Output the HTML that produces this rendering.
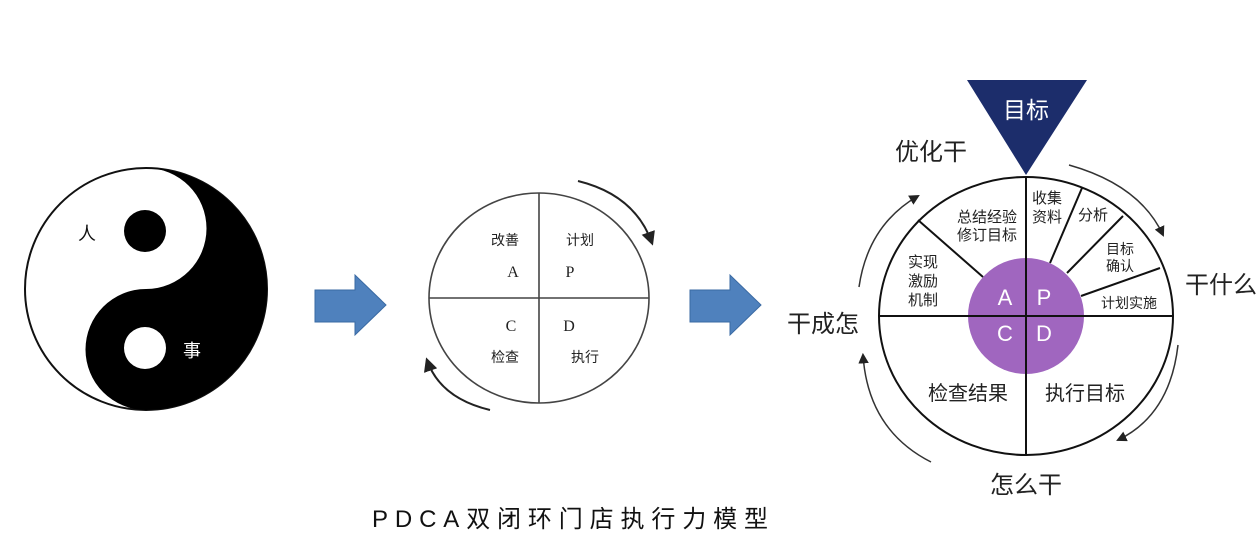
<!DOCTYPE html>
<html><head><meta charset="utf-8"><style>
html,body{margin:0;padding:0;background:#fff;}
svg{display:block;}
text{font-family:"Liberation Sans","Noto Sans CJK SC",sans-serif;}
</style></head><body>
<svg width="1259" height="549" viewBox="0 0 1259 549" xmlns="http://www.w3.org/2000/svg">
<defs>
<marker id="ah" viewBox="0 0 10 10" refX="8" refY="5" markerWidth="7" markerHeight="7" orient="auto"><path d="M0,0 L10,5 L0,10 z" fill="#222"/></marker>
</defs>
<rect width="1259" height="549" fill="#fff"/>

<!-- Yin-yang -->
<circle cx="146" cy="289" r="121" fill="#fff" stroke="#111" stroke-width="2"/>
<path d="M146,168 A121,121 0 0 1 146,410 A60.5,60.5 0 0 1 146,289 A60.5,60.5 0 0 0 146,168 Z" fill="#000"/>
<circle cx="145" cy="231" r="21" fill="#000"/>
<circle cx="145" cy="348" r="21" fill="#fff"/>
<text x="87" y="240" font-size="18" text-anchor="middle" fill="#111">人</text>
<text x="192" y="357" font-size="18" text-anchor="middle" fill="#fff">事</text>

<!-- blue arrows -->
<path d="M315,290 L355,290 L355,275 L386,305 L355,335 L355,322 L315,322 Z" fill="#4f81bd" stroke="#3a6aa3" stroke-width="1"/>
<path d="M690,290 L730,290 L730,275 L761,305 L730,335 L730,322 L690,322 Z" fill="#4f81bd" stroke="#3a6aa3" stroke-width="1"/>

<!-- middle PDCA -->
<ellipse cx="539" cy="298" rx="110" ry="105" fill="#fff" stroke="#444" stroke-width="1.6"/>
<line x1="539" y1="193" x2="539" y2="403" stroke="#444" stroke-width="1.6"/>
<line x1="429" y1="298" x2="649" y2="298" stroke="#444" stroke-width="1.6"/>
<g font-size="14" fill="#222" text-anchor="middle">
<text x="505" y="245">改善</text><text x="580" y="245">计划</text>
<text x="505" y="362">检查</text><text x="585" y="362">执行</text>
</g>
<g font-family="Liberation Serif,serif" font-size="16" fill="#222" text-anchor="middle">
<text x="513" y="277" style="font-family:'Liberation Serif',serif">A</text>
<text x="570" y="277" style="font-family:'Liberation Serif',serif">P</text>
<text x="511" y="331" style="font-family:'Liberation Serif',serif">C</text>
<text x="569" y="331" style="font-family:'Liberation Serif',serif">D</text>
</g>
<path d="M578,181 Q635,195 652,243" fill="none" stroke="#222" stroke-width="2" marker-end="url(#ah)"/>
<path d="M490,410 Q440,398 427,360" fill="none" stroke="#222" stroke-width="2" marker-end="url(#ah)"/>

<!-- right model -->
<ellipse cx="1026" cy="316" rx="147" ry="139" fill="#fff" stroke="#111" stroke-width="2"/>
<circle cx="1026" cy="316" r="58" fill="#a066bf"/>
<line x1="1026" y1="177" x2="1026" y2="455" stroke="#111" stroke-width="2"/>
<line x1="879" y1="316" x2="1173" y2="316" stroke="#111" stroke-width="2"/>
<line x1="1050" y1="263" x2="1082" y2="188" stroke="#111" stroke-width="2"/>
<line x1="1067" y1="273" x2="1123" y2="216" stroke="#111" stroke-width="2"/>
<line x1="1081" y1="296" x2="1160" y2="268" stroke="#111" stroke-width="2"/>
<line x1="983" y1="277" x2="918" y2="220" stroke="#111" stroke-width="2"/>
<path d="M967,80 L1087,80 L1026,175 Z" fill="#1c2d6b"/>
<text x="1026" y="118" font-size="23" fill="#fff" text-anchor="middle">目标</text>
<g font-size="15" fill="#222" text-anchor="middle">
<text x="1047" y="203">收集</text><text x="1047" y="222">资料</text>
<text x="987" y="222">总结经验</text><text x="987" y="240">修订目标</text>
<text x="1093" y="220">分析</text>
<text x="923" y="267">实现</text><text x="923" y="286">激励</text><text x="923" y="305">机制</text>
</g>
<g font-size="14" fill="#222" text-anchor="middle">
<text x="1120" y="254">目标</text><text x="1120" y="271">确认</text>
<text x="1129" y="308">计划实施</text>
</g>
<g font-size="20" fill="#222" text-anchor="middle">
<text x="968" y="400">检查结果</text><text x="1085" y="400">执行目标</text>
</g>
<g font-size="22" fill="#fff" text-anchor="middle">
<text x="1005" y="305">A</text><text x="1044" y="305">P</text>
<text x="1005" y="341">C</text><text x="1044" y="341">D</text>
</g>
<g font-size="24" fill="#222" text-anchor="middle">
<text x="931" y="160">优化干</text>
<text x="1221" y="293">干什么</text>
<text x="823" y="332">干成怎</text>
<text x="1026" y="493">怎么干</text>
</g>
<path d="M1069,165 Q1140,185 1163,235" fill="none" stroke="#333" stroke-width="1.5" marker-end="url(#ah)"/>
<path d="M1178,345 Q1170,415 1118,440" fill="none" stroke="#333" stroke-width="1.5" marker-end="url(#ah)"/>
<path d="M931,462 Q868,430 863,355" fill="none" stroke="#333" stroke-width="1.5" marker-end="url(#ah)"/>
<path d="M859,287 Q868,225 918,196" fill="none" stroke="#333" stroke-width="1.5" marker-end="url(#ah)"/>

<!-- title -->
<text x="372" y="527" font-size="24" fill="#111" textLength="396" lengthAdjust="spacing">PDCA双闭环门店执行力模型</text>
</svg>
</body></html>
